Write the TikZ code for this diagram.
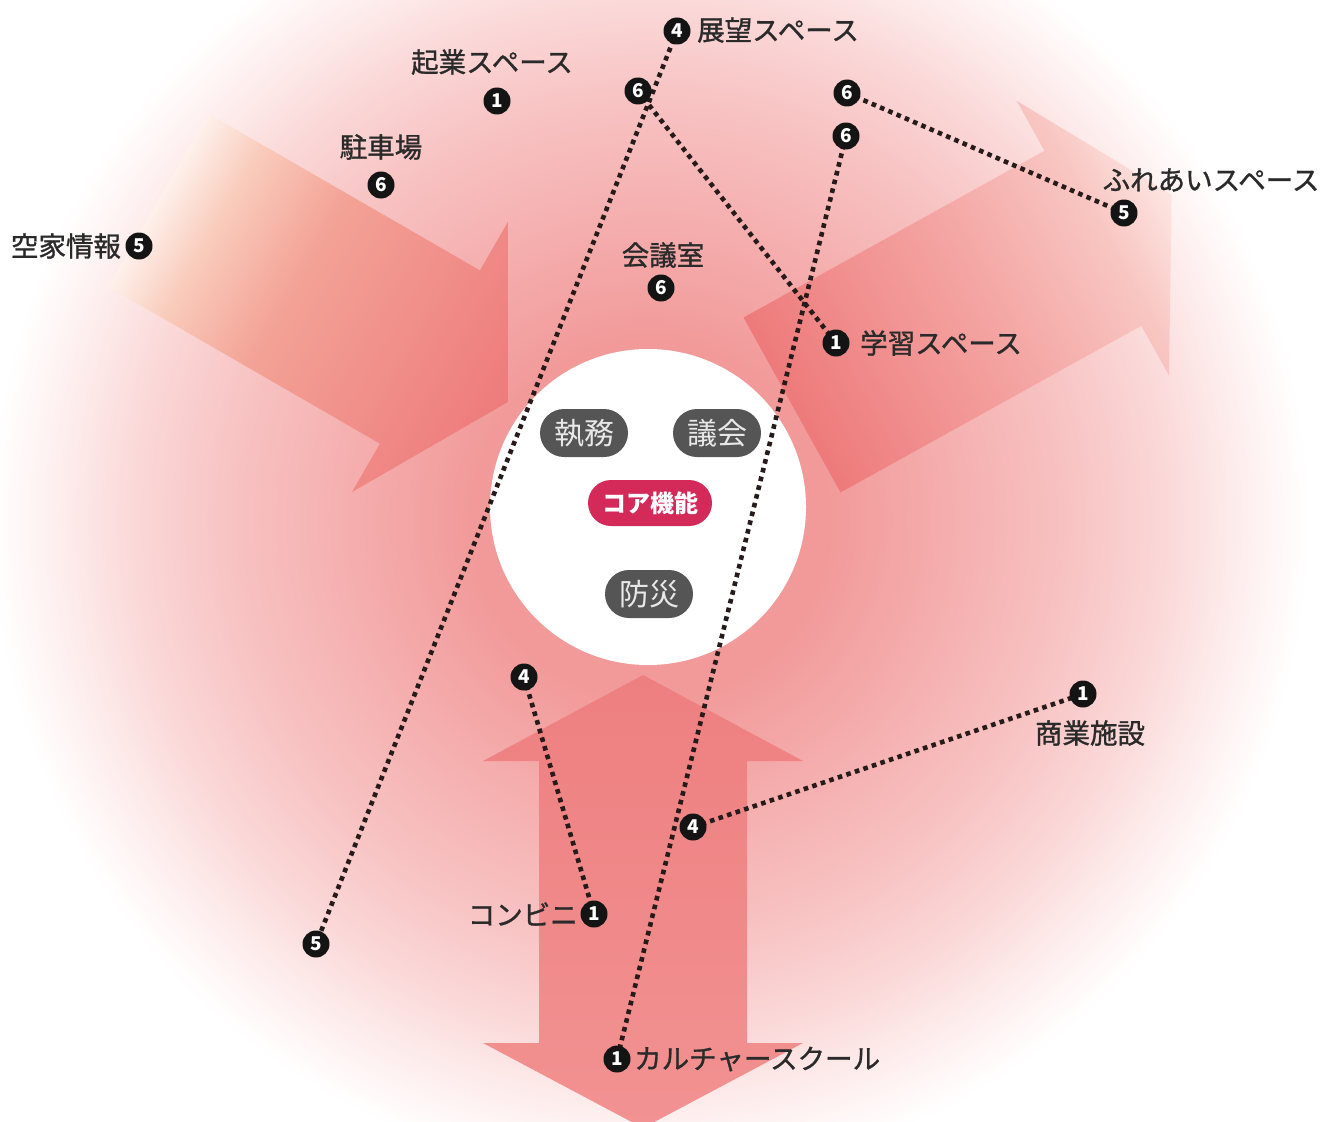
\documentclass[tikz,border=0pt]{standalone}
\usepackage{fontspec}
\setmainfont{Noto Sans CJK JP}
\newfontfamily\lblfont{Noto Sans CJK JP}[FakeBold=1.1]
\definecolor{bgA}{HTML}{F29A9A}
\definecolor{bgB}{HTML}{F5AEAE}
\definecolor{bgC}{HTML}{F8C4C4}
\definecolor{bgD}{HTML}{FBD9D9}
\definecolor{bgE}{HTML}{FDEAEA}
\definecolor{bgF}{HTML}{FFF8F8}
\definecolor{inA}{HTML}{FEF1EC}
\definecolor{inB}{HTML}{F9CBBB}
\definecolor{inC}{HTML}{F3A296}
\definecolor{inD}{HTML}{EE7B7C}
\definecolor{outA}{HTML}{EE7A7B}
\definecolor{outB}{HTML}{F4A5A3}
\definecolor{outC}{HTML}{F8C6C2}
\definecolor{outD}{HTML}{FDE6E2}
\definecolor{botA}{HTML}{EE7F80}
\definecolor{botB}{HTML}{F29292}
\definecolor{pillgray}{HTML}{555555}
\definecolor{pilltext}{HTML}{E8E8E8}
\definecolor{coreRed}{HTML}{D42A5A}
\definecolor{lblcol}{HTML}{2A2A2A}
\definecolor{dotcol}{HTML}{261A1A}
\pgfdeclareradialshading{bgshade}{\pgfpoint{0bp}{0bp}}{color(0bp)=(bgA); color(5.6bp)=(bgA); color(9.4bp)=(bgB); color(13.4bp)=(bgC); color(16.25bp)=(bgD); color(18.1bp)=(bgE); color(19.7bp)=(bgF); color(20.6bp)=(white); color(50bp)=(white)}
\pgfdeclarehorizontalshading{arrowin}{100bp}{color(0bp)=(inA); color(25bp)=(inA); color(33bp)=(inB); color(45bp)=(inC); color(75bp)=(inD); color(100bp)=(inD)}
\pgfdeclarehorizontalshading{arrowout}{100bp}{color(0bp)=(outA); color(25bp)=(outA); color(50bp)=(outB); color(66bp)=(outC); color(75bp)=(outD); color(100bp)=(outD)}
\begin{document}
\begin{tikzpicture}[x=1pt,y=-1pt,
  badge/.style={circle, fill=black!92, text=white, minimum size=27pt, inner sep=0pt,
    font=\fontsize{19}{19}\selectfont\bfseries},
  lbl/.style={text=lblcol, inner sep=0pt, font=\lblfont\fontsize{27.5}{27.5}\selectfont},
  pill/.style={fill=pillgray, text=pilltext, minimum width=88pt, minimum height=48pt,
    rounded corners=24pt, inner sep=0pt, font=\fontsize{30}{30}\selectfont},
  corepill/.style={fill=coreRed, text=white, minimum width=124pt, minimum height=46pt,
    rounded corners=23pt, inner sep=0pt, font=\fontsize{24}{24}\selectfont\bfseries},
  dots/.style={draw=dotcol, line width=4.6pt, dash pattern=on 4.6pt off 4.4pt}]
\useasboundingbox (0,0) rectangle (1321,1121);
\fill[white] (0,0) rectangle (1321,1121);
\shade[shading=bgshade] (650,520) circle (800);
% incoming arrow (upper left)
\begin{scope}[transform canvas={shift={(158,200)}, rotate=-30}]
  \shade[shading=arrowin] (0,-100) -- (314,-100) -- (314,-156) -- (404,0) -- (314,156) -- (314,100) -- (0,100) -- cycle;
\end{scope}
% outgoing arrow (right)
\begin{scope}[transform canvas={shift={(792,405)}, rotate=29}]
  \shade[shading=arrowout] (0,-100) -- (344,-100) -- (344,-157) -- (434,0) -- (344,157) -- (344,100) -- (0,100) -- cycle;
\end{scope}
% double arrow (bottom)
\shade[top color=botA, bottom color=botB] (643,675) -- (803,761) -- (747,761) -- (747,1043) -- (803,1043) -- (643,1128) -- (483,1043) -- (539,1043) -- (539,761) -- (483,761) -- cycle;
% core circle
\node[circle, fill=white, minimum size=316pt, inner sep=0pt] (core) at (648,507) {};
\node[pill] (shitsumu) at (584,433) {執務};
\node[pill] (gikai) at (717,433) {議会};
\node[corepill] (corefn) at (650,503) {コア機能};
\node[pill] (bousai) at (649,594) {防災};
% badge positions (coordinates), connectors first, then badges on top
\coordinate (pA) at (677,31);
\coordinate (pB) at (497,101);
\coordinate (pC) at (638,91);
\coordinate (pD) at (847,93);
\coordinate (pE) at (846,136);
\coordinate (pF) at (381,185);
\coordinate (pG) at (139,246);
\coordinate (pH) at (1124,213);
\coordinate (pI) at (661,288);
\coordinate (pJ) at (836,343);
\coordinate (pK) at (524,677);
\coordinate (pL) at (1083,694);
\coordinate (pM) at (693,827);
\coordinate (pN) at (594,914);
\coordinate (pO) at (316,944);
\coordinate (pP) at (617,1059);
\draw[dots] (pA) -- (pO);
\draw[dots] (pC) -- (pJ);
\draw[dots] (pD) -- (pH);
\draw[dots] (pE) -- (pP);
\draw[dots] (pK) -- (pN);
\draw[dots] (pM) -- (pL);
\node[badge] (bA) at (pA) {4};
\node[badge] (bB) at (pB) {1};
\node[badge] (bC) at (pC) {6};
\node[badge] (bD) at (pD) {6};
\node[badge] (bE) at (pE) {6};
\node[badge] (bF) at (pF) {6};
\node[badge] (bG) at (pG) {5};
\node[badge] (bH) at (pH) {5};
\node[badge] (bI) at (pI) {6};
\node[badge] (bJ) at (pJ) {1};
\node[badge] (bK) at (pK) {4};
\node[badge] (bL) at (pL) {1};
\node[badge] (bM) at (pM) {4};
\node[badge] (bN) at (pN) {1};
\node[badge] (bO) at (pO) {5};
\node[badge] (bP) at (pP) {1};
% labels
\node[lbl, anchor=west] (tA) at (697,30) {展望スペース};
\node[lbl] (tB) at (492,62) {起業スペース};
\node[lbl] (tF) at (381,147) {駐車場};
\node[lbl] (tG) at (66,246) {空家情報};
\node[lbl] (tH) at (1211,180) {ふれあいスペース};
\node[lbl] (tI) at (663,255) {会議室};
\node[lbl, anchor=west] (tJ) at (860,343) {学習スペース};
\node[lbl] (tL) at (1090,733) {商業施設};
\node[lbl, anchor=east] (tN) at (578,914) {コンビニ};
\node[lbl, anchor=west] (tP) at (634,1059) {カルチャースクール};
\end{tikzpicture}
\end{document}
